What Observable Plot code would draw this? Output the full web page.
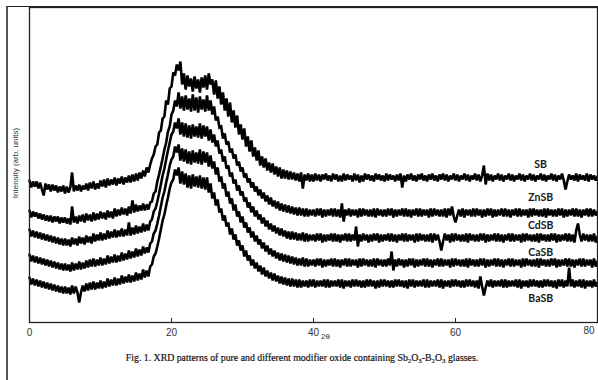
<!DOCTYPE html>
<html><head><meta charset="utf-8">
<script src="https://cdn.jsdelivr.net/npm/d3@7"></script>
<script src="https://cdn.jsdelivr.net/npm/@observablehq/plot@0.6"></script>
<style>
body{margin:0;background:#fff;width:598px;height:380px;position:relative;overflow:hidden;font-family:"Liberation Sans",Arial,sans-serif}
#chart{position:absolute;left:0;top:0}
.outer{position:absolute;left:6px;top:6px;width:600px;height:400px;border-left:2px solid #555;border-top:1px solid #222;pointer-events:none}
.ylab{position:absolute;left:15px;top:163px;transform:translate(-50%,-50%) rotate(-90deg);font-size:8px;color:#333;white-space:nowrap}
.tt{position:absolute;left:321px;top:332px;font-size:8px;color:#333}
.cap{position:absolute;left:0;width:604px;top:352px;text-align:center;font-family:"Liberation Serif","Times New Roman",serif;font-size:9.8px;color:#111;-webkit-text-stroke:0.2px #111}
.cap sub{font-size:70%;vertical-align:-2px;line-height:0}
</style></head><body>
<div id="chart"></div>
<div class="outer"></div>
<div class="ylab">Intensity (arb. units)</div>
<div class="tt">2θ</div>
<div class="cap">Fig. 1. XRD patterns of pure and different modifier oxide containing Sb<sub>2</sub>O<sub>3</sub>-B<sub>2</sub>O<sub>3</sub> glasses.</div>
<script>
// 2θ sampling step (degrees) of the digitised patterns, starting at 0°; one row = 1°
const step = 0.25;
const seriesNames = ["SB", "ZnSB", "CdSB", "CaSB", "BaSB"];
const xTicks = [0, 20, 40, 60, 80];

const SB = [
142,135,141,136, 141,134,140,133, 127,139,133,138, 131,138,132,137, 130,136,131,137,
129,136,130,135, 150,131,137,132, 138,131,137,133, 139,132,140,134, 141,133,139,134,
142,136,143,135, 144,137,143,138, 145,137,144,139, 146,138,145,140, 147,140,148,141,
149,142,150,144, 152,146,155,150, 158,164,168,176, 178,190,192,204, 206,222,218,234,
236,250,247,258, 252,261,238,249, 233,247,236,244, 231,246,234,243, 230,245,235,247,
233,249,238,243, 228,242,224,236, 218,230,212,224, 206,220,200,212, 195,207,188,198,
183,194,176,186, 171,182,166,175, 162,172,157,166, 155,164,152,160, 150,159,148,156,
146,155,144,153, 144,152,143,151, 143,150,142,149, 141,150,134,148, 142,149,141,148,
141,149,142,148, 141,148,143,149, 142,147,141,149, 143,148,141,147, 141,149,142,148,
143,147,141,149, 142,148,140,147, 141,149,143,148, 142,147,141,149, 143,148,142,147,
141,149,142,148, 143,147,141,148, 142,149,135,147, 141,148,143,149, 142,147,141,148,
143,149,142,147, 141,148,143,149, 142,147,141,148, 143,149,142,148, 141,147,143,149,
142,148,141,147, 143,149,142,148, 141,147,143,149, 142,148,141,147, 157,138,149,142,
148,141,147,143, 149,142,148,141, 147,143,149,142, 148,141,147,143, 149,142,148,141,
147,143,149,142, 148,141,147,143, 149,142,148,141, 147,143,149,142, 148,141,147,143,
149,142,133,141, 148,143,147,142, 149,141,148,143, 147,142,149,141, 148,143,147,142,
146];

const ZnSB = [
112,105,111,106, 110,104,109,103, 108,102,107,101, 107,100,106,101, 106,99,105,100,
105,99,104,98, 116,100,106,99, 107,101,108,100, 109,102,108,101, 110,102,109,103,
111,104,110,103, 112,105,111,104, 114,106,113,107, 115,108,114,107, 116,109,122,110,
118,111,117,112, 119,112,118,113, 120,121,129,131, 141,148,156,164, 173,180,191,196,
208,212,222,216, 230,214,226,212, 227,213,224,211, 228,212,225,210, 226,213,223,211,
227,212,222,208, 216,202,206,195, 196,184,189,178, 181,170,174,164, 168,157,161,151,
155,145,149,140, 144,135,140,131, 136,127,133,124, 130,121,127,118, 125,116,122,114,
121,112,119,111, 118,110,117,109, 116,108,115,107, 115,107,114,106, 114,106,113,107,
113,106,114,107, 114,105,113,106, 113,107,114,106, 114,106,113,105, 119,101,113,107,
114,106,113,107, 113,105,114,106, 114,107,113,106, 113,106,114,105, 114,107,113,106,
113,106,114,107, 114,105,113,106, 113,107,114,106, 114,106,113,105, 113,107,114,106,
114,106,113,107, 113,105,114,106, 114,107,113,106, 113,106,114,105, 114,107,116,106,
100,107,113,106, 114,105,113,107, 113,106,114,106, 114,107,113,105, 113,106,114,107,
114,105,113,106, 113,107,114,106, 114,106,113,105, 113,107,114,106, 114,106,113,107,
113,105,114,106, 114,107,113,106, 113,106,114,105, 114,107,113,106, 113,106,114,107,
114,105,113,106, 113,107,114,106, 114,106,113,105, 113,107,114,106, 114,106,113,107,
111];

const CdSB = [
93,86,92,85, 91,84,90,83, 89,82,88,81, 87,80,86,79, 85,78,84,77,
84,77,83,76, 85,78,84,77, 86,79,85,78, 87,80,86,79, 89,81,88,82,
90,82,89,83, 92,84,91,85, 93,85,92,86, 94,86,93,87, 100,87,95,88,
97,89,96,90, 99,91,98,92, 101,103,111,114, 121,129,138,147, 154,163,172,180,
188,191,200,194, 204,188,200,186, 199,185,197,184, 198,186,196,185, 199,184,197,186,
196,182,193,180, 188,176,182,169, 173,161,166,154, 157,146,150,139, 143,132,137,127,
131,121,125,115, 120,110,116,106, 112,103,108,99, 105,96,102,93, 99,91,97,89,
95,87,94,86, 92,84,91,83, 91,83,90,82, 89,82,90,81, 89,81,88,82,
88,81,89,82, 89,80,88,81, 88,82,89,81, 89,81,88,80, 88,82,89,81,
89,81,88,82, 96,76,88,81, 89,82,88,80, 88,81,89,82, 89,80,88,81,
88,82,89,81, 89,81,88,80, 88,82,89,81, 89,81,88,82, 88,80,89,81,
89,82,88,81, 88,81,89,80, 89,82,88,81, 72,81,89,82, 88,80,89,81,
89,82,88,81, 88,81,89,80, 89,82,88,81, 88,81,89,82, 89,80,88,81,
88,82,89,81, 89,81,88,80, 88,82,89,81, 89,81,88,82, 88,80,89,81,
89,82,88,81, 88,81,89,80, 89,82,88,81, 88,81,89,82, 89,80,88,81,
88,82,89,81, 89,81,88,80, 92,99,88,81, 89,82,88,81, 88,81,89,80,
86];

const CaSB = [
68,61,67,60, 66,59,65,58, 64,57,63,56, 62,55,61,54, 60,53,59,52,
59,52,58,51, 60,52,59,53, 61,53,60,54, 62,55,63,56, 64,56,63,57,
65,57,64,58, 67,59,66,60, 68,60,67,61, 70,62,69,63, 72,64,71,65,
74,66,73,67, 76,69,75,70, 79,81,89,92, 99,107,116,125, 131,140,148,157,
163,166,176,170, 178,162,174,161, 173,159,171,158, 172,160,170,159, 173,158,171,160,
170,156,167,154, 161,148,155,141, 146,134,139,126, 131,119,124,112, 118,106,111,100,
106,95,100,90, 95,85,91,81, 87,78,83,74, 80,71,77,68, 74,66,72,64,
70,62,69,61, 68,60,67,59, 66,58,65,57, 64,57,65,56, 64,56,63,57,
63,56,64,57, 64,55,63,56, 63,57,64,56, 64,56,63,55, 63,57,64,56,
64,56,63,57, 63,55,64,56, 64,57,63,56, 63,56,64,55, 64,57,63,56,
63,56,64,57, 71,52,63,56, 64,57,63,55, 63,56,64,57, 64,55,63,56,
63,57,64,56, 64,56,63,55, 63,57,64,56, 64,56,63,57, 63,55,64,56,
64,57,63,56, 63,56,64,55, 64,57,63,56, 63,56,64,57, 64,55,63,56,
63,57,64,56, 64,56,63,55, 63,57,64,56, 64,56,63,57, 63,55,64,56,
64,57,63,56, 63,56,64,55, 64,57,63,56, 63,56,64,57, 64,55,63,56,
63,57,64,56, 64,56,63,55, 63,57,64,56, 64,56,63,57, 63,55,64,56,
61];

const BaSB = [
45,38,44,37, 43,36,42,35, 41,34,40,33, 39,32,38,31, 37,30,36,29,
36,29,35,28, 37,29,36,30, 20,30,37,31, 39,32,40,33, 41,33,40,34,
42,34,41,35, 44,36,43,37, 45,37,44,38, 47,39,46,40, 48,40,47,41,
50,42,49,43, 53,45,52,46, 56,58,66,69, 76,84,93,102, 108,117,125,134,
140,143,153,147, 155,139,151,138, 149,135,147,134, 148,136,146,135, 147,134,145,133,
145,130,139,124, 130,117,123,110, 114,102,107,96, 100,88,94,83, 88,77,82,72,
77,66,72,62, 67,57,63,54, 60,51,57,48, 55,46,52,44, 50,42,49,41,
47,39,46,38, 45,37,44,36, 44,36,43,35, 43,35,42,36, 42,35,43,36,
43,35,42,36, 42,36,43,35, 43,35,42,36, 42,36,43,35, 43,34,42,36,
42,35,43,36, 43,36,42,35, 42,35,43,36, 43,36,42,34, 42,35,43,36,
43,36,42,35, 42,35,43,36, 43,36,42,35, 42,34,43,36, 43,35,42,36,
42,36,43,35, 43,35,42,36, 42,36,43,35, 43,34,42,36, 42,35,43,36,
43,36,42,35, 42,35,43,36, 43,36,42,35, 42,34,46,36, 27,35,42,36,
43,35,42,36, 42,36,43,35, 43,35,42,36, 42,36,43,35, 43,34,42,36,
42,35,43,36, 43,36,42,35, 42,35,43,36, 43,36,42,35, 42,34,43,36,
43,35,42,36, 55,36,43,35, 42,36,43,35, 43,34,42,36, 42,35,43,36,
40];

const allSeries = [SB, ZnSB, CdSB, CaSB, BaSB];
const rows = [];
allSeries.forEach((arr, k) => arr.forEach((v, i) => rows.push({name: seriesNames[k], theta: i * step, I: v})));

// label placement: near 2θ = 72°, relative to each pattern's high-angle level
const labelDy = [-13, -15, -12, -10, 15];
const labelMarks = seriesNames.map((n, k) => {
  const arr = allSeries[k];
  const level = d3.mean(arr.slice(-60));
  return Plot.text([{n, level}], {x: () => 72, y: "level", text: "n", dy: labelDy[k],
    fontFamily: "Lato, 'Open Sans', sans-serif", fontWeight: "bold", fontSize: 10.5, fill: "#1a1a1a"});
});

const chart = Plot.plot({
  width: 598, height: 345,
  marginTop: 7, marginLeft: 29, marginRight: 1, marginBottom: 23,
  style: {background: "transparent", fontFamily: "'Liberation Sans', Arial, sans-serif"},
  x: {domain: [0, 80], label: null},
  y: {domain: [0, 315], axis: null},
  marks: [
    Plot.lineY(rows, {x: "theta", y: "I", z: "name", stroke: "#000", strokeWidth: 2.6, strokeLinejoin: "miter", strokeMiterlimit: 2}),
    Plot.frame({stroke: "#222", strokeWidth: 1.3}),
    Plot.axisX(xTicks.slice(1, -1), {tickSize: 4, dy: -4, tickFormat: () => "", stroke: "#222", label: null}),
    Plot.axisX(xTicks.slice(0, -1), {tickSize: 0, tickPadding: 6, fontSize: 10, fill: "#333", label: null}),
    Plot.text(xTicks.slice(-1), {x: d => d, frameAnchor: "bottom", dy: 11, dx: -3, textAnchor: "end", fontSize: 10, fill: "#333"}),
    ...labelMarks
  ]
});
document.getElementById("chart").appendChild(chart);
</script>
</body></html>
